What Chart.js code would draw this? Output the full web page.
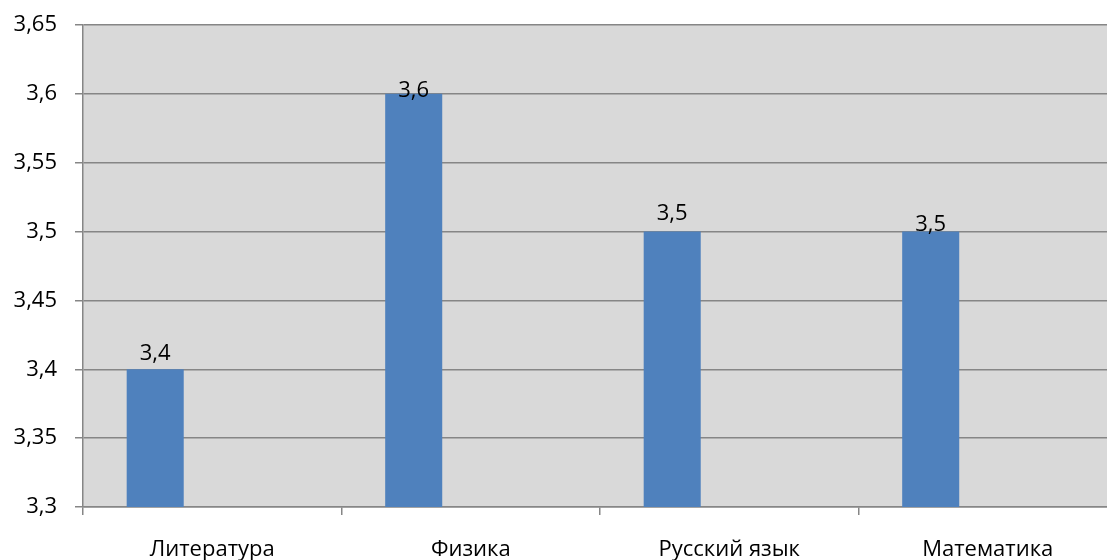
<!DOCTYPE html>
<html>
<head>
<meta charset="utf-8">
<script src="https://cdn.jsdelivr.net/npm/chart.js@4/dist/chart.umd.min.js"></script>
<style>
html, body { margin: 0; padding: 0; overflow: hidden; background: #fff; }
#wrap { position: relative; width: 1117px; height: 560px; }
</style>
</head>
<body>
<div id="wrap"><canvas id="chart"></canvas></div>
<script>
// Data
const categories = ['Литература', 'Физика', 'Русский язык', 'Математика'];
const scores = [3.4, 3.6, 3.5, 3.5];
const emptySeries = [null, null, null, null];
const yTickLabels = ['3,3', '3,35', '3,4', '3,45', '3,5', '3,55', '3,6', '3,65'];

const FONT = "'Open Sans', sans-serif";

// gray plot area like Excel
const plotBackground = {
    id: 'plotBackground',
    beforeDraw(chart) {
        const { ctx, chartArea } = chart;
        ctx.save();
        ctx.fillStyle = '#d9d9d9';
        ctx.fillRect(chartArea.left, chartArea.top, chartArea.right - chartArea.left, chartArea.bottom - chartArea.top);
        ctx.restore();
    }
};

// value labels over the bars
const valueLabels = {
    id: 'valueLabels',
    afterDatasetsDraw(chart, args, opts) {
        const { ctx } = chart;
        const meta = chart.getDatasetMeta(0);
        ctx.save();
        ctx.font = opts.font;
        ctx.fillStyle = '#000';
        ctx.textAlign = 'center';
        ctx.textBaseline = 'middle';
        meta.data.forEach((bar, i) => {
            const v = chart.data.datasets[0].data[i];
            ctx.fillText(String(v).replace('.', ','), bar.x, bar.y + opts.offsets[i]);
        });
        ctx.restore();
    }
};

new Chart(document.getElementById('chart').getContext('2d'), {
    type: 'bar',
    data: {
        labels: categories,
        datasets: [{
            label: 'Средний балл',
            data: scores,
            backgroundColor: '#4f81bd',
            categoryPercentage: 0.662,
            barPercentage: 1
        }, {
            label: 'Ряд 2',
            data: emptySeries,
            categoryPercentage: 0.662,
            barPercentage: 1
        }, {
            label: 'Ряд 3',
            data: emptySeries,
            categoryPercentage: 0.662,
            barPercentage: 1
        }]
    },
    options: {
        responsive: true,
        maintainAspectRatio: false,
        animation: false,
        layout: { padding: { top: 25, right: 0, left: 0, bottom: 0 } },
        plugins: {
            legend: { display: false },
            tooltip: { enabled: false },
            valueLabels: {
                font: "22px " + FONT,
                offsets: [-16, -3, -18, -7]
            }
        },
        scales: {
            x: {
                offset: true,
                grid: {
                    offset: true,
                    drawOnChartArea: false,
                    drawTicks: true,
                    tickLength: 8,
                    color: '#868686',
                    lineWidth: 1.5
                },
                border: { color: '#868686', width: 1.5 },
                ticks: {
                    color: '#000',
                    padding: 22,
                    maxRotation: 0,
                    font: { family: FONT, size: 22 }
                },
                afterFit(axis) { axis.height = 53; }
            },
            y: {
                min: 3.3,
                max: 3.65,
                grid: {
                    color: '#868686',
                    tickLength: 8,
                    lineWidth: 1.5
                },
                border: { color: '#868686', width: 1.5 },
                ticks: {
                    stepSize: 0.05,
                    color: '#000',
                    padding: 18,
                    font: { family: FONT, size: 22 },
                    callback: (value, index) => yTickLabels[index]
                },
                afterFit(axis) {
                    axis.width = 83;
                    axis.paddingTop = 0;
                }
            }
        }
    },
    plugins: [plotBackground, valueLabels]
});
</script>
</body>
</html>
